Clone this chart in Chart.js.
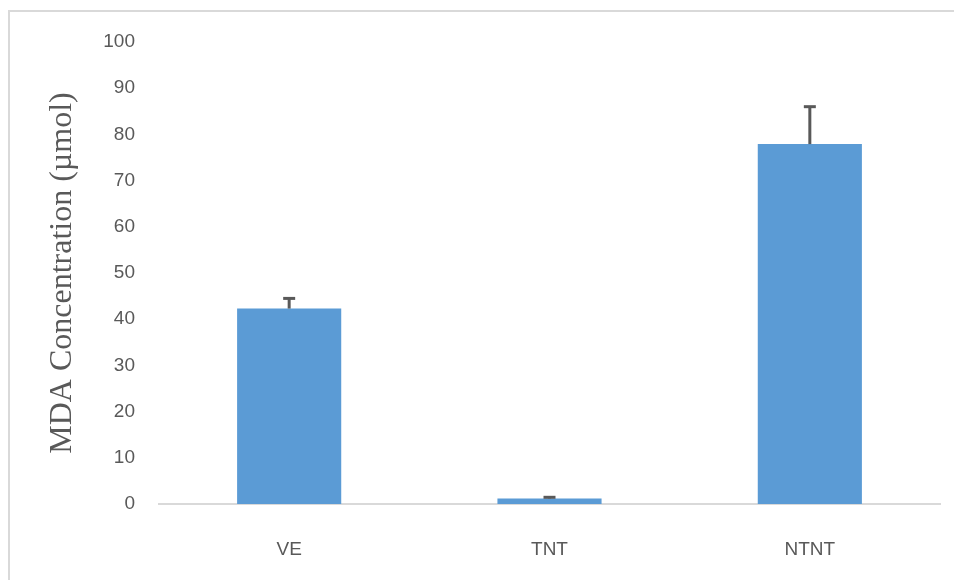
<!DOCTYPE html>
<html>
<head>
<meta charset="utf-8">
<script src="https://cdn.jsdelivr.net/npm/chart.js@4"></script>
<style>
  html, body { margin: 0; padding: 0; background: #fff; overflow: hidden; }
  #frame {
    position: absolute; left: 8px; top: 10px; width: 960px; height: 600px;
    border-left: 2px solid #d9d9d9; border-top: 2px solid #d9d9d9;
    box-sizing: border-box;
  }
  #wrap { position: absolute; left: 0; top: 0; width: 954px; height: 580px; }
</style>
</head>
<body>
<div id="frame"></div>
<div id="wrap"><canvas id="mdaChart"></canvas></div>
<script>
const groups = ["VE", "TNT", "NTNT"];
const mdaValues = [42.3, 1.2, 77.9];
const mdaErrors = [2.2, 0.25, 8.1];
const yTicks = [0, 10, 20, 30, 40, 50, 60, 70, 80, 90, 100];

// upper error bars, drawn through the y scale
const errorBars = {
  id: "errorBars",
  afterDatasetsDraw(chart) {
    const ctx = chart.ctx;
    const meta = chart.getDatasetMeta(0);
    const y = chart.scales.y;
    ctx.save();
    ctx.strokeStyle = "#595959";
    ctx.lineCap = "butt";
    meta.data.forEach((bar, i) => {
      const yTop = y.getPixelForValue(mdaValues[i] + mdaErrors[i]);
      const yBase = y.getPixelForValue(mdaValues[i]);
      ctx.lineWidth = 3;
      ctx.beginPath();
      ctx.moveTo(bar.x, yBase);
      ctx.lineTo(bar.x, yTop);
      ctx.stroke();
      ctx.beginPath();
      ctx.moveTo(bar.x - 6, yTop);
      ctx.lineTo(bar.x + 6, yTop);
      ctx.stroke();
    });
    ctx.restore();
  }
};

new Chart(document.getElementById("mdaChart"), {
  type: "bar",
  data: {
    labels: groups,
    datasets: [{
      data: mdaValues,
      backgroundColor: "#5b9bd5",
      barPercentage: 0.4,
      categoryPercentage: 1.0
    }]
  },
  options: {
    responsive: true,
    maintainAspectRatio: false,
    animation: false,
    layout: { padding: { top: 42, right: 14, bottom: 21, left: 0 } },
    plugins: {
      legend: { display: false },
      tooltip: { enabled: false }
    },
    scales: {
      x: {
        afterFit: s => { s.height = 55; },
        grid: { display: false, drawTicks: false },
        border: { display: true, color: "#d9d9d9", width: 2 },
        ticks: {
          color: "#595959",
          padding: 34,
          font: { family: "Liberation Sans, Arial, sans-serif", size: 19 }
        }
      },
      y: {
        min: 0,
        max: 100,
        afterFit: s => { s.width = 159; },
        afterBuildTicks: s => { s.ticks = yTicks.map(v => ({ value: v })); },
        grid: { display: false, drawTicks: false },
        border: { display: false },
        ticks: {
          color: "#595959",
          padding: 24,
          font: { family: "Liberation Sans, Arial, sans-serif", size: 19 }
        },
        title: {
          display: true,
          text: "MDA Concentration (µmol)",
          color: "#595959",
          padding: { top: 43, bottom: 0 },
          font: { family: "Liberation Serif, Times New Roman, serif", size: 32 }
        }
      }
    }
  },
  plugins: [errorBars]
});
</script>
</body>
</html>
